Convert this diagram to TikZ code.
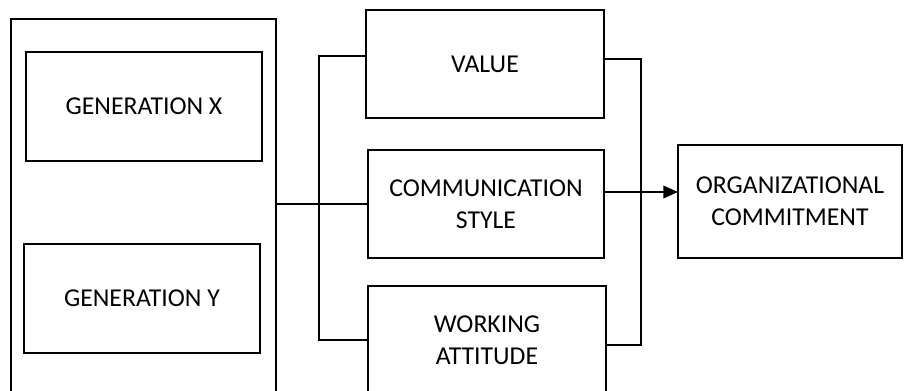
\documentclass[tikz,border=0pt]{standalone}
\usepackage{fontspec}
\setmainfont{Carlito}
\usepackage{tikz}
\usetikzlibrary{arrows.meta,calc}

\tikzset{
  box/.style={draw=black,line width=1.1pt,align=center,
    font=\fontsize{19.3}{24}\selectfont},
  link/.style={draw=black,line width=1.1pt,line join=miter}
}

\begin{document}
\begin{tikzpicture}[y=0.75pt,x=0.75pt,yscale=-1, inner sep=0pt, outer sep=0pt]
  \useasboundingbox (0,0) rectangle (904,390);
  \clip (0,0) rectangle (904,390);
  % generations
  \path (143.5,219.5) node[box,minimum width=198.75pt,minimum height=300.75pt] (gen) {};
  \path (144,106.5) node[box,minimum width=177pt,minimum height=81.75pt] (genX) {GENERATION X};
  \path (142,298.5) node[box,minimum width=177pt,minimum height=81.75pt] (genY) {GENERATION Y};
  % factors
  \path (485,64) node[box,minimum width=178.5pt,minimum height=81pt] (value) {VALUE};
  \path (486,204) node[box,minimum width=177pt,minimum height=81pt] (comm) {COMMUNICATION\\STYLE};
  \path (487,340) node[box,minimum width=178.5pt,minimum height=81pt] (work) {WORKING\\ATTITUDE};
  % outcome
  \path (790,201.5) node[box,minimum width=168pt,minimum height=84.75pt] (org) {ORGANIZATIONAL\\COMMITMENT};

  \coordinate (valueout) at ($(value.east)+(0,-5)$);
  \coordinate (workout) at ($(work.east)+(0,5)$);
  \coordinate (commout) at ($(comm.east)+(0,-12)$);

  \path[link] (comm.west -| gen.east) -- (comm.west);
  \path[link] ($(value.west)+(0,-8)$) -- ++(-47,0) |- (work.west);
  \path[link] (valueout) -- ++(37,0) |- (workout);
  \path[link,-{Triangle[length=11pt,width=9.5pt]}] (commout) -- (commout -| org.west);

\end{tikzpicture}
\end{document}
